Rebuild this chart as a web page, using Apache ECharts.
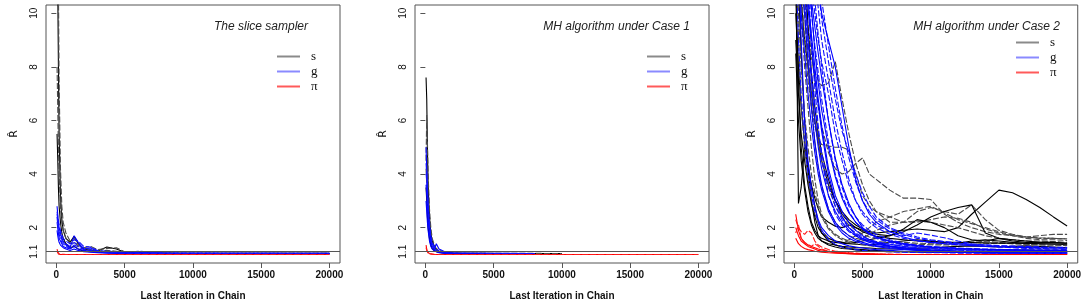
<!DOCTYPE html>
<html>
<head>
<meta charset="utf-8">
<title>R-hat traces</title>
<script src="https://cdn.jsdelivr.net/npm/echarts@6/dist/echarts.min.js"></script>
<style>
html, body { margin: 0; padding: 0; background: #fff; }
#chart { width: 1084px; height: 306px; }
</style>
</head>
<body>
<div id="chart"></div>
<script>
// x ticks / y ticks (R-hat)
const xTicks = [0, 5000, 10000, 15000, 20000];
const yTicks = [1.1, 2, 4, 6, 8, 10];

// ---- panel 1: the slice sampler ----
const iterSlice = [50, 100, 150, 200, 300, 400, 500, 700, 1000, 1300, 1600, 2000, 2500, 3000, 3700, 4400, 5000, 6000, 8000, 10000, 15000, 20000];
const sliceS = [
  [12, 11, 8, 5.5, 3.2, 2.3, 1.9, 1.6, 1.45, 1.68, 1.4, 1.2, 1.15, 1.12, 1.28, 1.2, 1.08, 1.05, 1.04, 1.04, 1.04, 1.04],
  [16, 14, 11, 7.5, 4.2, 2.8, 2.2, 1.8, 1.5, 1.6, 1.35, 1.25, 1.3, 1.18, 1.22, 1.25, 1.1, 1.06, 1.05, 1.04, 1.04, 1.04],
  [5.5, 4.6, 3.5, 2.8, 2.2, 1.8, 1.6, 1.4, 1.25, 1.3, 1.2, 1.12, 1.1, 1.08, 1.1, 1.08, 1.05, 1.04, 1.04, 1.03, 1.03, 1.03],
  [8, 6.5, 5, 4, 2.8, 2.2, 1.9, 1.6, 1.4, 1.45, 1.3, 1.2, 1.18, 1.12, 1.15, 1.12, 1.07, 1.05, 1.04, 1.04, 1.04, 1.04]
];
const sliceG = [
  [2.8, 2.5, 2.2, 2.0, 1.8, 1.6, 1.5, 1.35, 1.25, 1.7, 1.45, 1.2, 1.25, 1.12, 1.1, 1.08, 1.05, 1.08, 1.04, 1.04, 1.04, 1.04],
  [2.6, 2.4, 2.3, 2.1, 1.9, 1.75, 1.6, 1.5, 1.4, 1.55, 1.5, 1.3, 1.28, 1.15, 1.12, 1.1, 1.07, 1.12, 1.05, 1.05, 1.04, 1.04],
  [2.2, 2.0, 1.8, 1.6, 1.5, 1.4, 1.3, 1.25, 1.2, 1.3, 1.2, 1.15, 1.12, 1.08, 1.06, 1.05, 1.04, 1.04, 1.03, 1.03, 1.03, 1.03],
  [2.5, 2.3, 2.0, 1.85, 1.7, 1.55, 1.45, 1.4, 1.3, 1.45, 1.35, 1.25, 1.2, 1.1, 1.08, 1.07, 1.05, 1.06, 1.04, 1.04, 1.04, 1.03],
  [1.9, 1.7, 1.55, 1.45, 1.35, 1.3, 1.25, 1.2, 1.15, 1.2, 1.15, 1.1, 1.08, 1.06, 1.05, 1.04, 1.04, 1.03, 1.03, 1.03, 1.03, 1.03],
  [2.4, 2.1, 1.9, 1.75, 1.6, 1.45, 1.4, 1.3, 1.22, 1.35, 1.28, 1.18, 1.15, 1.1, 1.07, 1.06, 1.05, 1.04, 1.04, 1.03, 1.03, 1.03]
];
const sliceP = [
  [1.12, 1.05, 1.02, 1.01, 1.0, 1.0, 1.0, 1.0, 1.0, 1.0, 1.0, 1.0, 1.0, 1.0, 1.0, 1.0, 1.0, 1.0, 1.0, 1.0, 1.0, 1.0],
  [1.2, 1.1, 1.05, 1.02, 1.01, 1.01, 1.0, 1.0, 1.0, 1.0, 1.0, 1.0, 1.0, 1.0, 1.0, 1.0, 1.0, 1.0, 1.0, 1.0, 1.0, 1.0]
];

// ---- panel 2: MH algorithm, case 1 ----
const iterCase1 = [50, 100, 150, 200, 300, 400, 500, 700, 800, 1000, 1500, 2000, 3000, 4000, 6000, 8000, 10000, 12000, 15000, 20000];
const case1S = [
  [7.6, 6.8, 5.0, 3.6, 2.4, 1.8, 1.5, 1.25, 1.2, 1.12, 1.06, 1.04, 1.04, 1.04, 1.03, 1.03, 1.03],
  [4.5, 6.2, 5.2, 4.0, 2.7, 2.0, 1.6, 1.3, 1.22, 1.15, 1.08, 1.05, 1.04, 1.04, 1.04, 1.04, 1.03],
  [3.5, 3.0, 2.4, 2.0, 1.6, 1.35, 1.22, 1.12, 1.1, 1.07, 1.04, 1.04, 1.03, 1.03, 1.03, 1.03, 1.03],
  [4.2, 3.6, 3.0, 2.5, 1.9, 1.5, 1.3, 1.18, 1.15, 1.1, 1.05, 1.04, 1.04, 1.04, 1.03, 1.03, 1.03]
];
const case1G = [
  [5.0, 4.2, 3.5, 2.8, 2.0, 1.6, 1.4, 1.25, 1.4, 1.2, 1.08, 1.05, 1.04, 1.04, 1.04, 1.03],
  [4.4, 4.0, 3.4, 2.9, 2.2, 1.7, 1.45, 1.25, 1.2, 1.12, 1.06, 1.04, 1.04, 1.04, 1.03, 1.03],
  [3.6, 3.2, 2.8, 2.3, 1.8, 1.45, 1.3, 1.15, 1.12, 1.08, 1.05, 1.04, 1.03, 1.03, 1.03],
  [4.0, 3.8, 3.2, 2.6, 2.0, 1.55, 1.35, 1.2, 1.16, 1.1, 1.05, 1.04, 1.04, 1.03, 1.03, 1.03],
  [3.0, 2.6, 2.2, 1.9, 1.5, 1.3, 1.2, 1.12, 1.1, 1.06, 1.04, 1.04, 1.03, 1.03]
];
const case1P = [
  [1.35, 1.2, 1.1, 1.06, 1.03, 1.02, 1.01, 1.0, 1.0, 1.0, 1.0, 1.0, 1.0, 1.0, 1.0, 1.0, 1.0, 1.0, 1.0, 1.0],
  [1.25, 1.15, 1.08, 1.05, 1.03, 1.02, 1.01, 1.0, 1.0, 1.0, 1.0, 1.0, 1.0, 1.0, 1.0, 1.0, 1.0, 1.0, 1.0, 1.0]
];

// ---- panel 3: MH algorithm, case 2 ----
const iterCase2 = [100, 300, 500, 750, 1000, 1250, 1500, 1750, 2000, 2500, 3000, 3500, 4000, 4500, 5000, 5500, 6000, 7000, 8000, 9000, 10000, 11000, 12000, 13000, 14000, 15000, 16000, 17000, 18000, 19000, 20000];
const case2S = [
  [12, 2.9, 3.5, 5.0, 4.2, 3.5, 2.8, 2.2, 1.8, 1.5, 1.35, 1.28, 1.22, 1.2, 1.18, 1.16, 1.15, 1.12, 1.1, 1.1, 1.09, 1.08, 1.08, 1.07, 1.07, 1.07, 1.06, 1.06, 1.06, 1.06, 1.05],
  [20, 16, 13, 11, 9.5, 8.5, 7.5, 6.5, 5.8, 4.8, 4.2, 4.0, 4.1, 4.4, 4.6, 4.0, 3.8, 3.4, 3.1, 3.1, 3.05, 2.5, 2.2, 2.0, 1.85, 1.75, 1.7, 1.65, 1.6, 1.6, 1.58],
  [16, 13, 10.5, 9.0, 8.0, 7.0, 6.0, 5.2, 4.5, 3.6, 3.0, 2.6, 2.3, 2.1, 1.95, 1.85, 1.8, 1.85, 1.9, 1.95, 1.9, 1.85, 2.0, 2.5, 2.95, 3.4, 3.3, 3.05, 2.75, 2.4, 2.06],
  [12, 10.5, 9.5, 9.0, 8.8, 8.3, 7.8, 7.5, 7.3, 7.4, 8.2, 6.8, 5.5, 4.4, 3.6, 3.0, 2.6, 2.2, 2.2, 2.6, 2.75, 2.6, 2.5, 2.85, 2.3, 1.9, 1.75, 1.65, 1.7, 1.75, 1.75],
  [14, 11, 8.5, 6.0, 4.2, 3.0, 2.2, 1.7, 1.5, 1.35, 1.28, 1.22, 1.2, 1.17, 1.15, 1.14, 1.12, 1.1, 1.1, 1.09, 1.08, 1.08, 1.07, 1.07, 1.06, 1.06, 1.06, 1.05, 1.05, 1.05, 1.05],
  [18, 14, 11, 9, 7.5, 6.5, 5.8, 5.3, 5.1, 5.05, 5.0, 5.0, 4.9, 4.0, 3.2, 2.8, 2.6, 2.4, 2.2, 2.2, 2.3, 2.4, 2.35, 2.2, 1.95, 1.8, 1.7, 1.6, 1.55, 1.55, 1.52],
  [10, 8, 6.5, 5.2, 4.3, 3.6, 3.1, 2.7, 2.4, 2.2, 2.05, 2.0, 2.1, 2.0, 1.9, 1.8, 1.75, 1.7, 1.85, 2.1, 2.4, 2.6, 2.75, 2.85, 1.8, 1.6, 1.5, 1.45, 1.45, 1.45, 1.42],
  [13, 9, 6.5, 5.0, 3.8, 3.0, 2.5, 2.2, 1.9, 1.6, 1.5, 1.45, 1.55, 1.7, 1.8, 2.0, 2.2, 2.4, 2.6, 2.7, 2.8, 2.55, 2.3, 2.15, 2.0, 1.85, 1.72, 1.65, 1.62, 1.6, 1.58],
  [11, 7.5, 5.0, 3.6, 2.8, 2.2, 1.9, 1.7, 1.6, 1.5, 1.45, 1.42, 1.4, 1.38, 1.36, 1.35, 1.38, 1.45, 1.5, 1.55, 1.5, 1.45, 1.42, 1.5, 1.55, 1.5, 1.45, 1.42, 1.4, 1.38, 1.36],
  [15, 12, 10, 8, 6.5, 5.0, 3.8, 3.0, 2.5, 2.0, 1.75, 1.6, 1.5, 1.45, 1.6, 1.75, 1.9, 2.1, 2.2, 2.25, 2.2, 2.1, 2.0, 1.85, 1.7, 1.6, 1.55, 1.5, 1.5, 1.48, 1.45],
  [9, 7, 5.5, 4.5, 3.6, 2.9, 2.4, 2.0, 1.8, 1.6, 1.5, 1.45, 1.42, 1.45, 1.5, 1.55, 1.6, 1.7, 1.95, 2.3, 2.2, 2.0, 1.7, 1.55, 1.5, 1.6, 1.55, 1.5, 1.45, 1.45, 1.42],
  [22, 17, 13, 10.5, 8.5, 7.0, 6.0, 5.2, 4.5, 3.5, 2.8, 2.4, 2.1, 1.9, 1.75, 1.65, 1.6, 1.5, 1.45, 1.42, 1.4, 1.38, 1.4, 1.45, 1.5, 1.45, 1.4, 1.38, 1.36, 1.35, 1.35],
  [8.5, 6, 4.5, 3.4, 2.6, 2.1, 1.8, 1.6, 1.5, 1.4, 1.35, 1.3, 1.28, 1.26, 1.25, 1.24, 1.22, 1.2, 1.2, 1.22, 1.25, 1.28, 1.3, 1.32, 1.3, 1.28, 1.3, 1.32, 1.3, 1.28, 1.25],
  [16, 14, 12, 10, 8, 6.5, 5.2, 4.2, 3.5, 2.7, 2.2, 1.9, 1.7, 1.6, 1.55, 1.5, 1.48, 1.45, 1.4, 1.38, 1.36, 1.35, 1.35, 1.36, 1.4, 1.42, 1.4, 1.38, 1.36, 1.35, 1.33],
  [24, 19, 15, 12, 9.5, 7.8, 6.5, 5.5, 4.8, 3.8, 3.0, 2.5, 2.2, 2.0, 1.85, 1.75, 1.68, 1.6, 1.55, 1.5, 1.48, 1.46, 1.45, 1.44, 1.43, 1.42, 1.42, 1.41, 1.4, 1.4, 1.39],
  [13, 10, 8, 6.2, 5.0, 4.0, 3.3, 2.8, 2.4, 1.95, 1.7, 1.55, 1.45, 1.4, 1.36, 1.33, 1.3, 1.28, 1.25, 1.24, 1.22, 1.2, 1.2, 1.19, 1.18, 1.18, 1.17, 1.17, 1.16, 1.16, 1.15]
];
const case2G = [
  [16, 12, 9, 6, 4.5, 3.5, 2.8, 2.3, 2.0, 1.7, 1.5, 1.4, 1.32, 1.28, 1.24, 1.2, 1.18, 1.15, 1.12, 1.1, 1.08, 1.07, 1.07, 1.06, 1.05, 1.05, 1.05, 1.04, 1.04, 1.04, 1.03],
  [25, 20, 16, 13, 11, 9.0, 7.2, 5.8, 4.6, 3.2, 2.5, 2.1, 1.85, 1.7, 1.58, 1.5, 1.45, 1.38, 1.3, 1.25, 1.22, 1.2, 1.18, 1.16, 1.15, 1.14, 1.13, 1.12, 1.12, 1.11, 1.1],
  [22, 19, 15, 12, 10.5, 9.2, 8.0, 6.8, 5.8, 4.2, 3.2, 2.6, 2.2, 1.9, 1.7, 1.55, 1.45, 1.32, 1.25, 1.2, 1.16, 1.14, 1.12, 1.1, 1.1, 1.09, 1.08, 1.08, 1.07, 1.07, 1.06],
  [30, 25, 20, 16, 14, 12, 10.5, 9.2, 8.0, 6.0, 4.5, 3.5, 2.8, 2.4, 2.1, 1.9, 1.75, 1.55, 1.42, 1.35, 1.3, 1.27, 1.24, 1.22, 1.2, 1.19, 1.18, 1.17, 1.16, 1.15, 1.15],
  [18, 15, 13, 11, 9.0, 7.5, 6.0, 5.0, 4.2, 3.2, 2.6, 2.2, 1.9, 1.7, 1.55, 1.45, 1.38, 1.3, 1.22, 1.18, 1.14, 1.12, 1.1, 1.09, 1.08, 1.08, 1.07, 1.07, 1.06, 1.06, 1.05],
  [28, 24, 20, 17, 15, 13, 11.5, 10.2, 9.0, 7.5, 6.0, 4.8, 3.8, 3.0, 2.5, 2.2, 2.0, 1.75, 1.6, 1.5, 1.45, 1.42, 1.4, 1.36, 1.3, 1.28, 1.25, 1.22, 1.2, 1.2, 1.18],
  [24, 20, 17, 14, 12, 10.5, 9.5, 8.5, 7.6, 6.0, 4.6, 3.6, 2.9, 2.4, 2.0, 1.8, 1.65, 1.5, 1.4, 1.33, 1.28, 1.25, 1.22, 1.2, 1.18, 1.16, 1.15, 1.14, 1.13, 1.12, 1.12],
  [26, 22, 18, 15, 13, 11, 10, 9, 8.2, 7.0, 5.5, 4.5, 3.6, 3.0, 2.6, 2.3, 2.1, 1.85, 1.7, 1.8, 1.72, 1.62, 1.5, 1.4, 1.35, 1.3, 1.28, 1.25, 1.22, 1.2, 1.2],
  [15, 12, 10, 8.5, 7.0, 5.8, 4.8, 4.0, 3.4, 2.6, 2.1, 1.8, 1.6, 1.48, 1.4, 1.34, 1.3, 1.22, 1.18, 1.15, 1.12, 1.1, 1.09, 1.08, 1.07, 1.07, 1.06, 1.06, 1.05, 1.05, 1.05],
  [35, 30, 26, 22, 19, 16, 14, 12, 10.5, 8.8, 7.2, 5.8, 4.6, 3.7, 3.0, 2.6, 2.3, 1.95, 1.75, 1.6, 1.52, 1.48, 1.42, 1.38, 1.35, 1.32, 1.3, 1.28, 1.26, 1.25, 1.24],
  [20, 17, 14, 12, 10.2, 8.8, 7.6, 6.6, 5.6, 4.0, 3.0, 2.4, 2.0, 1.75, 1.6, 1.5, 1.42, 1.3, 1.25, 1.2, 1.17, 1.15, 1.13, 1.12, 1.11, 1.1, 1.1, 1.09, 1.09, 1.08, 1.08],
  [22, 18, 15, 13, 11.5, 10, 8.8, 7.8, 6.8, 5.2, 4.0, 3.2, 2.6, 2.2, 1.95, 1.75, 1.6, 1.45, 1.35, 1.3, 1.26, 1.23, 1.2, 1.18, 1.17, 1.16, 1.15, 1.15, 1.14, 1.14, 1.13],
  [14, 12, 11, 10, 8.2, 6.5, 5.2, 4.3, 3.6, 2.7, 2.2, 1.9, 1.7, 1.55, 1.45, 1.38, 1.33, 1.26, 1.2, 1.16, 1.13, 1.11, 1.1, 1.09, 1.08, 1.08, 1.07, 1.07, 1.06, 1.06, 1.06],
  [30, 26, 22, 18, 16, 14, 12.5, 11, 9.8, 8.2, 6.8, 5.6, 4.8, 4.0, 3.3, 2.8, 2.4, 2.0, 1.8, 1.65, 1.55, 1.48, 1.42, 1.38, 1.35, 1.33, 1.31, 1.3, 1.28, 1.27, 1.26],
  [28, 24, 20, 18, 16, 14, 12.5, 11, 10, 9.0, 8.0, 6.5, 5.0, 3.8, 3.0, 2.5, 2.2, 1.85, 1.65, 1.52, 1.45, 1.4, 1.36, 1.33, 1.3, 1.28, 1.27, 1.26, 1.25, 1.24, 1.23],
  [12, 9, 7, 5.2, 4.0, 3.2, 2.6, 2.2, 1.9, 1.55, 1.38, 1.28, 1.22, 1.18, 1.15, 1.13, 1.12, 1.1, 1.08, 1.07, 1.06, 1.06, 1.05, 1.05, 1.05, 1.04, 1.04, 1.04, 1.04, 1.03, 1.03],
  [26, 21, 17, 14, 12, 10.2, 8.6, 7.4, 6.4, 5.0, 3.9, 3.1, 2.55, 2.2, 1.95, 1.78, 1.65, 1.48, 1.38, 1.32, 1.28, 1.25, 1.22, 1.2, 1.19, 1.18, 1.17, 1.16, 1.15, 1.15, 1.14],
  [19, 16, 13, 10.8, 9.2, 7.8, 6.6, 5.6, 4.8, 3.6, 2.8, 2.3, 2.0, 1.8, 1.65, 1.55, 1.48, 1.38, 1.3, 1.25, 1.21, 1.18, 1.16, 1.14, 1.13, 1.12, 1.11, 1.1, 1.1, 1.09, 1.09]
];
const case2P = [
  [2.5, 1.9, 1.6, 1.45, 1.35, 1.3, 1.25, 1.2, 1.17, 1.12, 1.08, 1.06, 1.04, 1.03, 1.02, 1.01, 1.01, 1.0, 1.0, 1.0, 1.0, 1.0, 1.0, 1.0, 1.0, 1.0, 1.0, 1.0, 1.0, 1.0, 1.0],
  [2.3, 2.0, 1.85, 1.75, 1.9, 1.8, 1.5, 1.35, 1.28, 1.18, 1.12, 1.1, 1.07, 1.05, 1.03, 1.02, 1.01, 1.01, 1.0, 1.0, 1.0, 1.0, 1.0, 1.0, 1.0, 1.0, 1.0, 1.0, 1.0, 1.0, 1.0],
  [2.0, 1.7, 1.5, 1.4, 1.3, 1.25, 1.2, 1.15, 1.12, 1.1, 1.07, 1.05, 1.03, 1.02, 1.01, 1.01, 1.0, 1.0, 1.0, 1.0, 1.0, 1.0, 1.0, 1.0, 1.0, 1.0, 1.0, 1.0, 1.0, 1.0, 1.0],
  [1.8, 2.1, 1.6, 1.45, 1.38, 1.3, 1.4, 1.3, 1.2, 1.12, 1.08, 1.06, 1.04, 1.03, 1.02, 1.01, 1.01, 1.0, 1.0, 1.0, 1.0, 1.0, 1.0, 1.0, 1.0, 1.0, 1.0, 1.0, 1.0, 1.0, 1.0],
  [1.6, 1.4, 1.3, 1.22, 1.18, 1.15, 1.12, 1.1, 1.08, 1.06, 1.05, 1.04, 1.03, 1.02, 1.01, 1.01, 1.0, 1.0, 1.0, 1.0, 1.0, 1.0, 1.0, 1.0, 1.0, 1.0, 1.0, 1.0, 1.0, 1.0, 1.0]
];

const panels = [
  { title: 'The slice sampler', iters: iterSlice, s: sliceS, g: sliceG, p: sliceP,
    left: 46, titleRight: 776, legendLeft: 272, legendTop: 44 },
  { title: 'MH algorithm under Case 1', iters: iterCase1, s: case1S, g: case1G, p: case1P,
    left: 415, titleRight: 394, legendLeft: 642, legendTop: 44 },
  { title: 'MH algorithm under Case 2', iters: iterCase2, s: case2S, g: case2G, p: case2P,
    left: 784, titleRight: 24, legendLeft: 1011, legendTop: 30 }
];

const sColors = ['#000000', '#4a4a4a'];
const gColors = ['#0000ff', '#1010ff'];
const pColors = ['#ff0000', '#ff1a1a'];

function traces(name, iters, lines, colors, gi) {
  return lines.map((vals, i) => ({
    type: 'line',
    name: name,
    xAxisIndex: gi,
    yAxisIndex: gi,
    data: vals.map((v, j) => [iters[j], v]),
    symbol: 'none',
    silent: true,
    itemStyle: { color: colors[0] },
    lineStyle: { color: colors[i % colors.length], width: 1.1, type: i % 2 ? [6, 2] : 'solid' }
  }));
}

const grid = [], xAxis = [], yAxis = [], title = [], legend = [], series = [];
panels.forEach((pn, gi) => {
  grid.push({ left: pn.left, top: 5, width: 294, height: 260, show: true,
    borderColor: '#555', borderWidth: 1 });
  xAxis.push({
    type: 'value', gridIndex: gi, min: -760, max: 20780,
    name: 'Last Iteration in Chain', nameLocation: 'middle', nameGap: 28,
    nameTextStyle: { fontSize: 10, fontWeight: 'bold', color: '#111', fontFamily: 'Liberation Sans' },
    axisLine: { show: false },
    splitLine: { show: false },
    axisTick: { show: true, length: 5, lineStyle: { color: '#555' }, customValues: xTicks },
    axisLabel: { fontSize: 10, fontWeight: 'bold', color: '#111', margin: 7,
      fontFamily: 'Liberation Sans', customValues: xTicks, formatter: v => String(v) }
  });
  yAxis.push({
    type: 'value', gridIndex: gi, min: 0.68, max: 10.31,
    name: 'R\u0302', nameLocation: 'middle', nameGap: 26, nameRotate: 90,
    nameTextStyle: { fontSize: 11, color: '#111', fontFamily: 'DejaVu Sans' },
    axisLine: { show: false },
    splitLine: { show: false },
    axisTick: { show: true, length: 5, lineStyle: { color: '#555' }, customValues: yTicks },
    axisLabel: { fontSize: 10, color: '#111', rotate: 90, margin: 7,
      fontFamily: 'Liberation Sans', customValues: yTicks, formatter: v => String(v) }
  });
  title.push({
    text: pn.title, right: pn.titleRight, top: 21, padding: 0,
    textStyle: { fontSize: 12, fontStyle: 'italic', fontWeight: 'normal', color: '#222', fontFamily: 'Liberation Sans' }
  });
  legend.push({
    left: pn.legendLeft, top: pn.legendTop, orient: 'vertical',
    itemWidth: 23, itemHeight: 2, itemGap: 0, icon: 'rect', selectedMode: false,
    textStyle: { fontSize: 13, lineHeight: 15, color: '#111', fontFamily: 'Liberation Serif', padding: [0, 0, 0, 6] },
    data: [
      { name: 's', itemStyle: { color: '#8a8a8a' } },
      { name: 'g', itemStyle: { color: '#8a8aff' } },
      { name: 'π', itemStyle: { color: '#ff5a5a' } }
    ]
  });
  const sSer = traces('s', pn.iters, pn.s, sColors, gi);
  sSer[0].markLine = {
    silent: true, symbol: 'none', label: { show: false },
    lineStyle: { color: '#555', width: 1, type: 'solid' },
    data: [{ yAxis: 1.1 }]
  };
  series.push(...sSer);
  series.push(...traces('g', pn.iters, pn.g, gColors, gi));
  series.push(...traces('π', pn.iters, pn.p, pColors, gi));
});

const chart = echarts.init(document.getElementById('chart'), null, { renderer: 'canvas' });
chart.setOption({
  animation: false,
  backgroundColor: '#fff',
  title, legend, grid, xAxis, yAxis, series
});
</script>
</body>
</html>
